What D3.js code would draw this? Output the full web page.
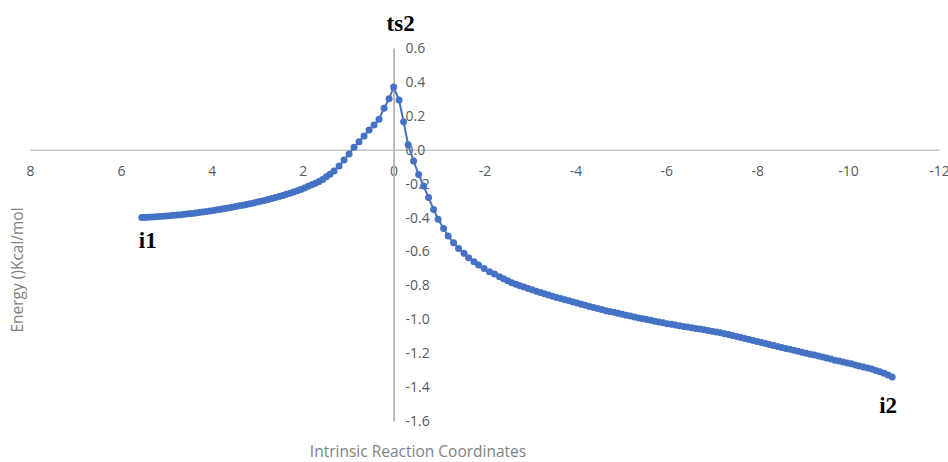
<!DOCTYPE html>
<html>
<head>
<meta charset="utf-8">
<script src="https://cdn.jsdelivr.net/npm/d3@7"></script>
<style>
  body { margin: 0; background: #fff; }
  svg { display: block; }
</style>
</head>
<body>
<svg id="chart"></svg>
<script>
// IRC path: transition state, then the two branches going outward
var tsX = 0, tsY = 0.37
var leftX = [0.10,0.21,0.32,0.43,0.54,0.65,0.76,0.87,0.98,1.09,1.20,1.31,
  1.40,1.48,1.56,1.64,1.72,1.80,1.88,1.96,2.04,2.12,2.20,2.28,2.36,2.44,2.52,2.60,2.68,2.76,2.84,2.92,
  3.00,3.08,3.16,3.24,3.32,3.40,3.48,3.56,3.64,3.72,3.80,3.88,3.96,4.04,4.12,4.20,4.28,4.36,4.44,4.52,
  4.60,4.68,4.76,4.84,4.92,5.00,5.08,5.16,5.24,5.32,5.40,5.48,5.54]
var leftY = [0.300,0.245,0.180,0.146,0.116,0.081,0.047,0.014,-0.025,-0.061,-0.096,-0.125,
  -0.145,-0.160,-0.175,-0.187,-0.197,-0.207,-0.216,-0.226,-0.234,-0.242,-0.249,-0.256,-0.263,-0.270,-0.276,-0.282,-0.288,-0.294,-0.299,-0.304,
  -0.309,-0.314,-0.318,-0.323,-0.327,-0.331,-0.335,-0.339,-0.343,-0.347,-0.351,-0.354,-0.358,-0.361,-0.364,-0.367,-0.370,-0.373,-0.376,-0.378,
  -0.381,-0.383,-0.385,-0.387,-0.389,-0.391,-0.393,-0.394,-0.396,-0.397,-0.398,-0.399,-0.400]
var rightX = [-0.12,-0.22,-0.32,-0.44,-0.55,-0.66,-0.77,-0.88,-0.98,-1.10,-1.20,-1.32,-1.43,-1.55,-1.65,-1.77,-1.87,-1.99,-2.11,-2.22,-2.33,
  -2.42,-2.51,-2.60,-2.69,-2.78,-2.87,-2.96,-3.05,-3.14,-3.23,-3.32,-3.41,-3.50,-3.59,-3.68,-3.77,-3.86,-3.95,
  -4.04,-4.13,-4.22,-4.31,-4.40,-4.49,-4.58,-4.67,-4.76,-4.85,-4.94,-5.03,-5.12,-5.21,-5.30,-5.39,-5.48,-5.57,
  -5.66,-5.75,-5.84,-5.93,-6.02,-6.11,-6.20,-6.29,-6.38,-6.47,-6.56,-6.65,-6.74,-6.83,-6.92,-7.01,-7.10,-7.19,
  -7.28,-7.37,-7.46,-7.55,-7.64,-7.73,-7.82,-7.91,-8.00,-8.09,-8.18,-8.27,-8.36,-8.45,-8.54,-8.63,-8.72,-8.81,
  -8.90,-8.99,-9.08,-9.17,-9.26,-9.35,-9.44,-9.53,-9.62,-9.71,-9.80,-9.89,-9.98,-10.07,-10.16,-10.25,-10.34,
  -10.43,-10.52,-10.61,-10.70,-10.79,-10.88,-10.97]
var rightY = [0.293,0.165,0.030,-0.067,-0.146,-0.214,-0.282,-0.352,-0.410,-0.464,-0.509,-0.549,-0.582,-0.611,-0.637,-0.660,-0.680,-0.700,-0.720,-0.733,-0.749,
  -0.761,-0.773,-0.784,-0.794,-0.802,-0.810,-0.818,-0.826,-0.834,-0.842,-0.849,-0.857,-0.864,-0.871,-0.878,-0.885,-0.891,-0.898,
  -0.904,-0.911,-0.917,-0.924,-0.931,-0.937,-0.943,-0.949,-0.954,-0.959,-0.965,-0.970,-0.976,-0.981,-0.987,-0.992,-0.997,-1.001,
  -1.006,-1.011,-1.016,-1.021,-1.026,-1.030,-1.034,-1.038,-1.042,-1.046,-1.050,-1.054,-1.058,-1.062,-1.066,-1.070,-1.075,-1.080,
  -1.085,-1.090,-1.095,-1.101,-1.107,-1.113,-1.119,-1.125,-1.131,-1.137,-1.143,-1.149,-1.155,-1.160,-1.166,-1.172,-1.177,-1.183,
  -1.188,-1.194,-1.200,-1.206,-1.211,-1.217,-1.223,-1.229,-1.235,-1.241,-1.246,-1.252,-1.258,-1.263,-1.269,-1.275,-1.281,
  -1.287,-1.294,-1.302,-1.310,-1.319,-1.329,-1.341]

var xTicks = [8,6,4,2,0,-2,-4,-6,-8,-10,-12]
var yTicks = [0.6,0.4,0.2,0.0,-0.2,-0.4,-0.6,-0.8,-1.0,-1.2,-1.4,-1.6]
var pointLabels = ["ts2","i1","i2"]

var width = 948, height = 462
var svg = d3.select("#chart").attr("width", width).attr("height", height)

var x = d3.scaleLinear().domain([8, -12]).range([30, 939])
var y = d3.scaleLinear().domain([-1.6, 0.6]).range([421, 48])

// one path: far end of left branch -> TS -> far end of right branch
var pts = []
for (var i = leftX.length - 1; i >= 0; i--) pts.push([leftX[i], leftY[i]])
pts.push([tsX, tsY])
for (var i = 0; i < rightX.length; i++) pts.push([rightX[i], rightY[i]])

// x axis (crosses at energy 0)
var xAxis = svg.append("g")
    .attr("transform", "translate(0," + y(0) + ")")
    .call(d3.axisBottom(x).tickValues(xTicks).tickSize(0).tickPadding(16)
        .tickFormat(function(d){ return String(d) }))
xAxis.select(".domain").attr("stroke", "#c6c6c6").attr("stroke-width", 1.5)
xAxis.selectAll("text")
    .attr("fill", "#595959")
    .style("font-family", "'Open Sans', sans-serif")
    .style("font-size", "14px")

// y axis (crosses at coordinate 0)
var yAxis = svg.append("g")
    .attr("transform", "translate(" + x(0) + ",0)")
    .call(d3.axisRight(y).tickValues(yTicks).tickSize(0).tickPadding(12)
        .tickFormat(function(d){ return d.toFixed(1) }))
yAxis.select(".domain").attr("stroke", "#b3b3b3").attr("stroke-width", 1.8)
yAxis.selectAll("text")
    .attr("fill", "#595959")
    .style("font-family", "'Open Sans', sans-serif")
    .style("font-size", "14px")

var line = d3.line()
    .x(function(d){ return x(d[0]) })
    .y(function(d){ return y(d[1]) })

svg.append("path")
    .datum(pts)
    .attr("d", line)
    .attr("fill", "none")
    .attr("stroke", "#4472C4")
    .attr("stroke-width", 2)

svg.append("g")
    .selectAll("circle")
    .data(pts)
    .enter().append("circle")
    .attr("cx", function(d){ return x(d[0]) })
    .attr("cy", function(d){ return y(d[1]) })
    .attr("r", 3.5)
    .attr("fill", "#4472C4")

// axis titles
svg.append("text")
    .text("Intrinsic Reaction Coordinates")
    .attr("x", 418).attr("y", 457)
    .attr("text-anchor", "middle")
    .attr("fill", "#7f7f7f")
    .style("font-family", "'Open Sans', sans-serif")
    .style("font-size", "15.5px")

svg.append("text")
    .text("Energy ()Kcal/mol")
    .attr("transform", "translate(23,270) rotate(-90)")
    .attr("text-anchor", "middle")
    .attr("fill", "#7f7f7f")
    .style("font-family", "'Open Sans', sans-serif")
    .style("font-size", "15.5px")

// point labels
var lab = [
    {t: pointLabels[0], x: x(tsX) + 7, y: 31},
    {t: pointLabels[1], x: x(leftX[leftX.length-1]) + 6, y: 248},
    {t: pointLabels[2], x: x(rightX[rightX.length-1]) - 4, y: 413}
]
svg.selectAll(".plab")
    .data(lab)
    .enter().append("text")
    .attr("class", "plab")
    .text(function(d){ return d.t })
    .attr("x", function(d){ return d.x })
    .attr("y", function(d){ return d.y })
    .attr("text-anchor", "middle")
    .attr("fill", "#000")
    .style("font-family", "'Liberation Serif', 'Times New Roman', serif")
    .style("font-weight", "bold")
    .style("font-size", "23px")
</script>
</body>
</html>
